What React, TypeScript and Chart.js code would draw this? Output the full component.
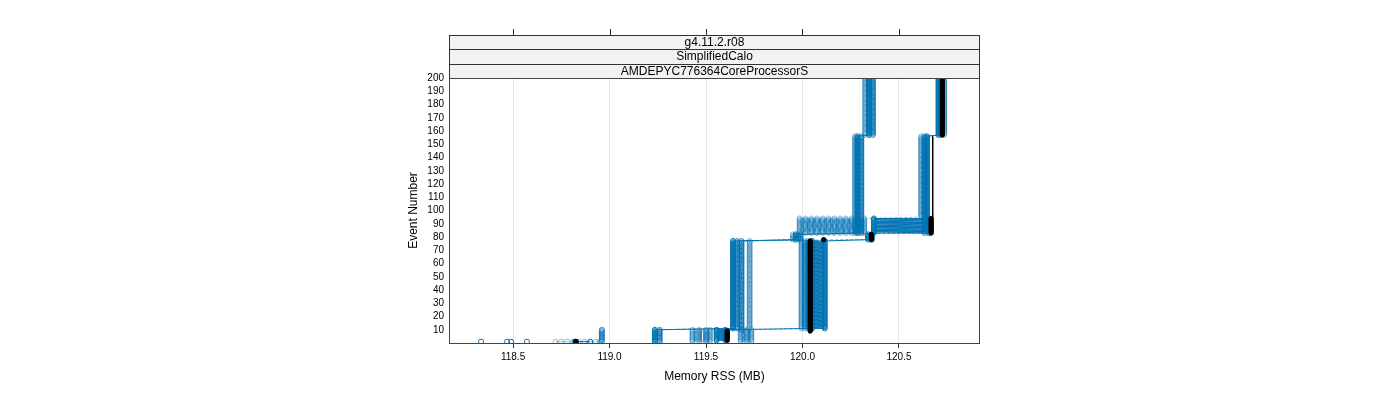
import React, { useEffect, useRef } from "react";
import { Chart, registerables } from "chart.js";
Chart.register(...registerables);

// ---------- labels / ticks ----------
const stripLabels = ["g4.11.2.r08", "SimplifiedCalo", "AMDEPYC776364CoreProcessorS"];
const xTicks = [118.5, 119.0, 119.5, 120.0, 120.5];
const yTicks = [10, 20, 30, 40, 50, 60, 70, 80, 90, 100, 110, 120, 130, 140, 150, 160, 170, 180, 190, 200];
const xRange = [118.168, 120.92];
const yRange = [0, 200];

// ---------- data: [memory values (MB), first event, last event] ----------
type Seg = [number[], number, number];

const isolatedFirstEvent: Seg[] = [[[118.334, 118.469, 118.49, 118.572], 1, 1]];
const blackFirstEvent: Seg[] = [[[118.826], 1, 1]];
const bottomDashed: Seg[] = [[[118.72, 118.75, 118.78, 118.81, 118.84, 118.87, 118.9, 118.93, 118.95], 1, 1]];
const bottomDark: Seg[] = [[[118.82, 118.9], 1, 1]];
const column119: Seg[] = [[[118.96], 1, 10]];

const blackRun: Seg[] = [
  [[119.61], 2, 9],
  [[120.04], 9, 77],
  [[120.11], 78, 78],
  [[120.357], 78, 82],
  [[120.667], 83, 94],
  [[120.725], 157, 200],
];
const blackThin: Seg[] = [
  [[120.667], 83, 94],
  [[120.675], 95, 156],
];
const runA: Seg[] = [
  [[119.555, 119.6], 2, 10],
  [[120.05, 120.115], 11, 77],
  [[120.34], 78, 82],
  [[120.37, 120.655], 83, 94],
  [[120.645], 95, 156],
  [[120.705], 157, 200],
];
const runB: Seg[] = [
  [[119.235], 1, 10],
  [[119.64], 11, 77],
  [[119.965], 78, 82],
  [[120.285], 83, 156],
  [[120.345], 157, 200],
];
const runC: Seg[] = [
  [[119.26], 1, 10],
  [[119.662], 11, 77],
  [[120.36], 78, 82],
  [[120.305], 83, 156],
  [[120.365], 157, 200],
];
const runD: Seg[] = [
  [[119.684], 10, 77],
  [[119.99], 78, 82],
  [[120.632], 83, 156],
  [[120.715], 157, 200],
];
const ladderA: Seg[] = [
  [[119.43, 119.465, 119.5, 119.52], 1, 10],
  [[119.726], 11, 77],
  [[119.95], 78, 82],
  [[119.985, 120.015, 120.045, 120.075, 120.105, 120.135, 120.165, 120.195, 120.225, 120.255, 120.29, 120.32], 83, 94],
  [[120.615], 95, 156],
  [[120.735], 157, 200],
];
const ladderB: Seg[] = [
  [[119.68, 119.71, 119.735], 1, 10],
  [[119.995, 120.012, 120.028], 11, 77],
  [[119.978], 78, 82],
  [[120.272], 83, 156],
  [[120.325], 157, 200],
];

function expand(segs: Seg[]) {
  const pts: { x: number; y: number }[] = [];
  for (const [vals, from, to] of segs) {
    for (let e = from; e <= to; e++) for (const v of vals) pts.push({ x: v, y: e });
  }
  return pts;
}

const BLUE = "#0072b2";
const BLUE_MID = "rgba(0,114,178,0.75)";
const BLUE_LIGHT = "rgba(0,114,178,0.45)";

function series(segs: Seg[], color: string, dashed: boolean, line = true, order = 5) {
  return {
    data: expand(segs),
    showLine: line,
    borderColor: color,
    borderWidth: 1,
    borderDash: dashed ? [3, 2] : [],
    pointStyle: "circle",
    pointRadius: 2.5,
    pointBorderWidth: 1,
    pointBorderColor: color,
    pointBackgroundColor: "rgba(0,0,0,0)",
    order,
  };
}

const framePlugin = {
  id: "frame",
  afterDraw(chart: any) {
    const { ctx, chartArea: a, scales } = chart;
    const x = scales.x;
    ctx.save();
    const top = 35;
    const h = (a.top - top) / 3;
    ctx.font = '12px "Liberation Sans", Arial, sans-serif';
    ctx.textAlign = "center";
    ctx.textBaseline = "middle";
    ctx.lineWidth = 1;
    stripLabels.forEach((lab, i) => {
      const y0 = Math.round(top + i * h);
      const y1 = Math.round(top + (i + 1) * h);
      ctx.fillStyle = "#f2f2f2";
      ctx.fillRect(a.left, y0, a.right - a.left, y1 - y0);
      ctx.strokeStyle = "#333";
      ctx.strokeRect(a.left + 0.5, y0 + 0.5, a.right - a.left - 1, y1 - y0);
      ctx.fillStyle = "#000";
      ctx.fillText(lab, (a.left + a.right) / 2, (y0 + y1) / 2 + 0.5);
    });
    ctx.strokeStyle = "#333";
    xTicks.forEach((v) => {
      const px = Math.round(x.getPixelForValue(v)) + 0.5;
      ctx.beginPath();
      ctx.moveTo(px, 29);
      ctx.lineTo(px, 35);
      ctx.stroke();
    });
    ctx.strokeStyle = "#444";
    ctx.strokeRect(a.left + 0.5, a.top + 0.5, a.right - a.left - 1, a.bottom - a.top);
    ctx.restore();
  },
};

export default function App() {
  const ref = useRef<HTMLCanvasElement>(null);
  useEffect(() => {
    if (!ref.current) return;
    Chart.defaults.font.family = '"Liberation Sans", Arial, sans-serif';
    const black = {
      data: expand(blackRun),
      showLine: false,
      pointStyle: "circle",
      pointRadius: 2.2,
      pointBorderWidth: 1,
      pointBorderColor: "#000",
      pointBackgroundColor: "#000",
      order: 3,
    };
    const blackLine = {
      data: expand(blackThin),
      showLine: true,
      borderColor: "#000",
      borderWidth: 1.5,
      pointRadius: 0,
      order: 7,
    };
    const blackFirst = {
      data: expand(blackFirstEvent),
      showLine: false,
      pointRadius: 2.5,
      pointBackgroundColor: "#000",
      pointBorderColor: "#000",
      order: 0,
    };
    const chart = new Chart(ref.current, {
      type: "scatter",
      data: {
        datasets: [
          blackFirst as any,
          series(isolatedFirstEvent, BLUE, false, false, 4),
          series(bottomDashed, BLUE_LIGHT, true, true, 6),
          series(bottomDark, BLUE, false, true, 5),
          series(column119, BLUE_MID, true, false, 5),
          black as any,
          blackLine as any,
          series(runA, BLUE, false, true, 4),
          series(runB, BLUE, false, true, 4),
          series(runC, BLUE_MID, true, true, 4),
          series(runD, BLUE_MID, true, true, 4),
          series(ladderA, BLUE_LIGHT, true, true, 6),
          series(ladderB, BLUE_LIGHT, true, true, 6),
        ],
      },
      options: {
        animation: false,
        responsive: false,
        events: [],
        layout: { padding: { left: 400, right: 420, top: 78, bottom: 0 } },
        plugins: { legend: { display: false }, tooltip: { enabled: false } },
        scales: {
          x: {
            type: "linear",
            min: xRange[0],
            max: xRange[1],
            afterFit: (s: any) => { s.height = 57; },
            afterBuildTicks: (s: any) => { s.ticks = xTicks.map((v) => ({ value: v })); },
            border: { display: false },
            grid: { color: "#e6e6e6", tickColor: "#333", tickLength: 5, drawTicks: true, lineWidth: 1 },
            ticks: {
              autoSkip: false,
              padding: 3,
              color: "#000",
              font: { size: 10 },
              maxRotation: 0,
              callback: (v: any) => Number(v).toFixed(1),
            },
            title: {
              display: true,
              text: "Memory RSS (MB)",
              color: "#000",
              font: { size: 12 },
              padding: { top: 0, bottom: 16 },
            },
          },
          y: {
            type: "linear",
            min: yRange[0],
            max: yRange[1],
            afterFit: (s: any) => { s.width = 49; },
            afterBuildTicks: (s: any) => { s.ticks = yTicks.map((v) => ({ value: v })); },
            border: { display: false },
            grid: { display: false, drawTicks: false },
            ticks: { autoSkip: false, padding: 5, color: "#000", font: { size: 10 } },
            title: {
              display: true,
              text: "Event Number",
              color: "#000",
              font: { size: 12 },
              padding: { top: 6, bottom: 0 },
            },
          },
        },
      },
      plugins: [framePlugin],
    });
    return () => chart.destroy();
  }, []);
  return (
    <div style={{ position: "fixed", left: 0, top: 0, width: 1400, height: 400, background: "#fff" }}>
      <canvas ref={ref} width={1400} height={400} />
    </div>
  );
}
